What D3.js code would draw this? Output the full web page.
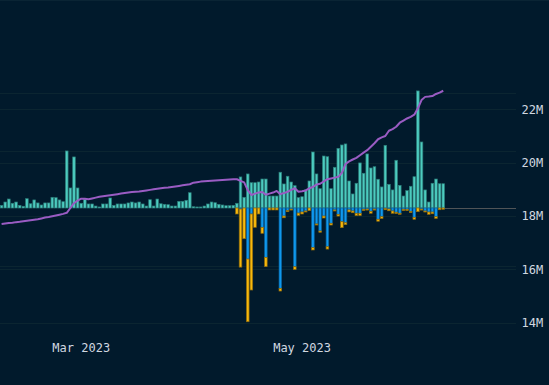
<!DOCTYPE html>
<html>
<head>
<meta charset="utf-8">
<script src="https://cdn.jsdelivr.net/npm/d3@7"></script>
<style>
    html, body { margin: 0; padding: 0; background: #011a2c; }
    svg { display: block; }
    text { font-family: "DejaVu Sans Mono", monospace; font-size: 12px; fill: #d1d8e0; }
</style>
</head>
<body>
<svg id="chart" width="549" height="385"></svg>
<script>
//one bar per day, starting here
var firstDay = '2023-02-07';

//time axis labels
var monthTicks = ['2023-03-01', '2023-05-01'];

//right axis (supply, millions)
var supplyTicks = [14, 16, 18, 20, 22];

//daily inflow (teal, up)
var inflow = [2.3, 5.2, 7.8, 4.1, 5.2, 2.3, 1.5, 8.1, 3.7, 7.0,
    4.4, 2.6, 4.4, 4.4, 9.3, 9.0, 7.0, 5.5, 49.6, 17.4,
    44.4, 17.4, 4.1, 7.6, 3.5, 3.5, 1.7, 0.9, 3.5, 3.5,
    8.7, 2.3, 3.5, 3.5, 3.5, 4.4, 5.2, 4.4, 5.2, 3.5,
    1.7, 7.2, 1.7, 7.8, 3.7, 3.2, 2.9, 1.7, 1.7, 5.8,
    5.8, 6.7, 13.3, 1.1, 0.9, 0.9, 1.7, 3.5, 5.2, 4.6,
    3.2, 2.6, 2.0, 2.0, 2.3, 4.1, 27.0, 9.3, 29.6, 22.0,
    22.0, 22.6, 25.2, 25.2, 10.4, 10.4, 10.4, 31.1, 20.9, 27.6,
    22.6, 19.4, 9.0, 9.8, 15.7, 23.5, 48.7, 29.6, 16.8, 45.2,
    44.6, 16.8, 35.4, 51.9, 54.8, 55.7, 23.5, 12.2, 21.5, 39.2,
    30.2, 47.0, 34.8, 35.9, 25.0, 18.3, 54.5, 20.6, 15.7, 41.5,
    19.7, 10.4, 15.1, 18.9, 27.2, 101.8, 57.4, 15.7, 5.2, 21.5,
    25.2, 21.1, 21.1];

//daily outflow, blue part (stacked first, down)
var outBlue = [0, 0, 0, 0, 0, 0, 0, 0, 0, 0,
    0, 0, 0, 0, 0, 0, 0, 0, 0, 0,
    0, 0, 0, 0, 0, 0, 0, 0, 0, 0,
    0, 0, 0, 0, 0, 0, 0, 0, 0, 0,
    0, 0, 0, 0, 0, 0, 0, 0, 0, 0,
    0, 0, 0, 0, 0, 0, 0, 0, 0, 0,
    0, 0, 0, 0, 0, 0, 0.9, 0, 44.4, 5.2,
    0, 0, 16.8, 42.9, 0, 0, 0, 69.9, 7.0, 2.3,
    0.9, 51.1, 4.4, 3.5, 2.6, 0, 34.5, 13.9, 20.0, 7.0,
    33.7, 13.3, 1.7, 5.5, 11.9, 12.8, 1.7, 2.6, 4.6, 4.6,
    1.1, 0.9, 2.9, 0.9, 9.8, 7.6, 0.4, 0.9, 2.6, 3.7,
    4.6, 1.1, 1.1, 2.9, 8.1, 0, 0.9, 2.6, 3.5, 3.5,
    7.6, 0, 0];

//daily outflow, yellow part (stacked below blue)
var outYellow = [0, 0, 0, 0, 0, 0, 0, 0, 0, 0,
    0, 0, 0, 0, 0, 0, 0, 0, 0, 0,
    0, 0, 0, 0, 0, 0, 0, 0, 0, 0,
    0, 0, 0, 0, 0, 0, 0, 0, 0, 0,
    0, 0, 0, 0, 0, 0, 0, 0, 0, 0,
    0, 0, 0, 0, 0, 0, 0, 0, 0, 0,
    0, 0, 0, 0, 0, 5.2, 50.5, 26.7, 54.5, 66.1,
    16.8, 5.2, 5.2, 8.1, 1.7, 1.7, 1.7, 2.3, 1.5, 0.9,
    0.9, 2.3, 2.0, 1.7, 0.9, 2.3, 2.0, 0.9, 1.1, 1.7,
    2.0, 1.5, 0.9, 1.5, 5.2, 1.7, 1.7, 1.5, 2.0, 2.0,
    1.1, 0.9, 1.7, 0.9, 1.7, 1.5, 1.1, 1.5, 2.0, 1.1,
    0.9, 1.1, 1.1, 1.1, 1.7, 3.2, 0.9, 0.9, 2.0, 1.5,
    1.5, 1.5, 1.1];

//total supply line (millions)
var supply = [17.70, 17.72, 17.74, 17.75, 17.77, 17.78, 17.80, 17.82, 17.84, 17.86,
    17.88, 17.91, 17.94, 17.96, 17.99, 18.02, 18.05, 18.08, 18.12, 18.30,
    18.48, 18.58, 18.65, 18.65, 18.63, 18.66, 18.69, 18.72, 18.74, 18.76,
    18.78, 18.80, 18.82, 18.84, 18.86, 18.88, 18.90, 18.91, 18.92, 18.94,
    18.96, 18.98, 19.00, 19.02, 19.04, 19.06, 19.07, 19.09, 19.11, 19.13,
    19.15, 19.17, 19.19, 19.25, 19.27, 19.29, 19.30, 19.31, 19.32, 19.33,
    19.34, 19.35, 19.36, 19.37, 19.38, 19.38, 19.32, 19.26, 18.97, 18.79,
    18.84, 18.88, 18.90, 18.80, 18.84, 18.88, 18.94, 18.82, 18.86, 18.91,
    18.98, 19.04, 18.91, 18.93, 18.96, 19.04, 19.09, 19.18, 19.21, 19.30,
    19.38, 19.41, 19.44, 19.47, 19.62, 19.95, 20.05, 20.12, 20.18, 20.28,
    20.38, 20.47, 20.60, 20.73, 20.88, 20.95, 21.00, 21.20, 21.26, 21.35,
    21.50, 21.58, 21.66, 21.72, 21.80, 22.04, 22.35, 22.47, 22.48, 22.50,
    22.58, 22.63, 22.70];

var C = {
    bg: '#011a2c',
    grid: '#0b2531',
    teal: '#4ccbbf', tealEdge: '#2c7c78',
    blue: '#0f98ee', blueEdge: '#0a5f96',
    yellow: '#f8b90c', yellowEdge: '#8f6a0c',
    line: '#9a5cc3',
    zero: '#505457'
};

var W = 516, H = 385;
var n = inflow.length;
var parseDay = d3.utcParse('%Y-%m-%d');
var start = parseDay(firstDay);
var fmtMonth = d3.utcFormat('%b %Y');

var svg = d3.select('#chart');
svg.append('rect').attr('width', 549).attr('height', H).attr('fill', C.bg);

//day index -> px (empty space kept at the right, like a trading chart)
var x = d3.scaleLinear().domain([-0.44, 142.1]).range([0, W]);
var step = x(1) - x(0);
function dayIndex(s) { return d3.utcDay.count(start, parseDay(s)); }

//hidden left scale for flows
var yBar = d3.scaleLinear().domain([-100, 100]).range([323, 93]);
//right scale for supply
var yPrice = d3.scaleLinear().domain([14, 22]).range([322.6, 109.4]);

//grid lines
svg.append('g').selectAll('line')
    .data(yBar.ticks(4).filter(function (d) { return d !== 0; }))
    .join('line')
    .attr('x1', 0).attr('x2', W)
    .attr('y1', function (d) { return Math.round(yBar(d)) + 0.5; })
    .attr('y2', function (d) { return Math.round(yBar(d)) + 0.5; })
    .attr('stroke', C.grid);

svg.append('g').selectAll('line')
    .data(supplyTicks)
    .join('line')
    .attr('x1', 0).attr('x2', W)
    .attr('y1', function (d) { return Math.round(yPrice(d)) + 0.5; })
    .attr('y2', function (d) { return Math.round(yPrice(d)) + 0.5; })
    .attr('stroke', C.grid);

svg.append('line')
    .attr('x1', 0).attr('x2', 549).attr('y1', 0.5).attr('y2', 0.5)
    .attr('stroke', '#0a2434');

//zero line right of the bars
svg.append('line')
    .attr('x1', x(n - 0.5)).attr('x2', W)
    .attr('y1', yBar(0) + 0.5).attr('y2', yBar(0) + 0.5)
    .attr('stroke', C.zero);

var bw = step - 1;
function barX(i) { return x(i) - step / 2 + 0.5; }

var bars = svg.append('g');

bars.selectAll('.in')
    .data(inflow)
    .join('rect')
    .attr('class', 'in')
    .attr('x', function (d, i) { return barX(i); })
    .attr('y', function (d) { return yBar(d); })
    .attr('width', bw)
    .attr('height', function (d) { return yBar(0) - yBar(d); })
    .attr('fill', C.teal)
    .attr('stroke', C.tealEdge)
    .attr('stroke-width', 0.7);

bars.selectAll('.ob')
    .data(outBlue)
    .join('rect')
    .attr('class', 'ob')
    .attr('x', function (d, i) { return barX(i); })
    .attr('y', yBar(0))
    .attr('width', bw)
    .attr('height', function (d) { return yBar(-d) - yBar(0); })
    .attr('fill', C.blue)
    .attr('stroke', C.blueEdge)
    .attr('stroke-width', function (d) { return d > 0 ? 0.7 : 0; });

bars.selectAll('.oy')
    .data(outYellow)
    .join('rect')
    .attr('class', 'oy')
    .attr('x', function (d, i) { return barX(i); })
    .attr('y', function (d, i) { return yBar(-outBlue[i]); })
    .attr('width', bw)
    .attr('height', function (d, i) { return yBar(-outBlue[i] - d) - yBar(-outBlue[i]); })
    .attr('fill', C.yellow)
    .attr('stroke', C.yellowEdge)
    .attr('stroke-width', function (d) { return d > 0 ? 0.7 : 0; });

//supply line
svg.append('path')
    .datum(supply)
    .attr('d', d3.line()
        .x(function (d, i) { return x(i); })
        .y(function (d) { return yPrice(d); }))
    .attr('fill', 'none')
    .attr('stroke', C.line)
    .attr('stroke-width', 2)
    .attr('stroke-linejoin', 'round');

//right axis labels
svg.append('g').selectAll('text')
    .data(supplyTicks)
    .join('text')
    .attr('x', 521.5)
    .attr('y', function (d) { return yPrice(d); })
    .attr('dy', '0.35em')
    .text(function (d) { return d + 'M'; });

//time labels
svg.append('g').selectAll('text')
    .data(monthTicks)
    .join('text')
    .attr('x', function (d) { return x(dayIndex(d)); })
    .attr('y', 348)
    .attr('dy', '0.35em')
    .attr('text-anchor', 'middle')
    .text(function (d) { return fmtMonth(parseDay(d)); });
</script>
</body>
</html>
